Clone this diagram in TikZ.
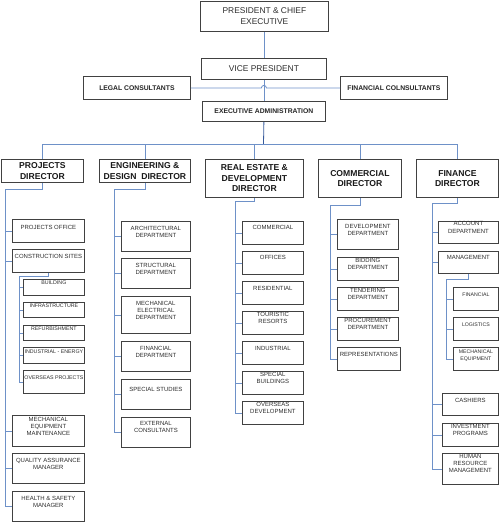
\documentclass[tikz,border=0pt]{standalone}
\usepackage{fontspec}
\setmainfont{Liberation Sans}
\usepackage{tikz}
\usetikzlibrary{positioning}
\definecolor{linkc}{RGB}{110,145,200}
\definecolor{darklink}{RGB}{55,90,155}
\definecolor{boxc}{RGB}{65,65,65}
\definecolor{textc}{RGB}{45,45,45}

\begin{document}
\begin{tikzpicture}[x=1pt,y=-1pt,
    unit/.style={draw=boxc,line width=0.8pt,fill=white,anchor=north west,inner sep=0pt},
    top/.style={unit,font=\fontsize{8.4}{10.6}\selectfont,text=textc,align=center},
    staff/.style={unit,font=\bfseries\fontsize{6.8}{8}\selectfont,text=black!85},
    head/.style={unit,font=\bfseries\fontsize{8.6}{10.4}\selectfont,text=black!90,align=center},
    utext/.style={anchor=north,inner sep=0pt,align=center,text=textc,font=\fontsize{6}{7.3}\selectfont},
    stext/.style={utext,font=\fontsize{5.3}{6.8}\selectfont},
    link/.style={draw=linkc,line width=0.8pt}]
  \useasboundingbox (0,0) rectangle (500,522);
  % top of the chart
  \node[top,minimum width=128,minimum height=30] (pr) at (200,1) {PRESIDENT \& CHIEF\\EXECUTIVE};
  \node[top,minimum width=125,minimum height=21] (vp) at (201,58) {VICE PRESIDENT};
  \node[staff,minimum width=107,minimum height=23] (lc) at (83,76) {LEGAL CONSULTANTS};
  \node[staff,minimum width=107,minimum height=23] (fc) at (340,76) {FINANCIAL COLNSULTANTS};
  \node[staff,minimum width=123,minimum height=20] (ea) at (202,101) {EXECUTIVE ADMINISTRATION};
  \draw[link] (pr.south -| vp.north) -- (vp.north);
  \draw[link] (vp.south) -- (ea.north);
  \draw[link] (lc.east) -- ([xshift=-2.5pt]vp.south |- lc.east)
    arc[start angle=180,end angle=0,radius=2.5pt] -- (fc.west);
  % directors
  \node[head,minimum width=82,minimum height=23] (pd) at (1,159) {PROJECTS\\DIRECTOR};
  \node[head,minimum width=91,minimum height=23] (ed) at (99,159) {ENGINEERING \&\\DESIGN\ \ DIRECTOR};
  \node[head,minimum width=98,minimum height=38] (rd) at (205,159) {REAL ESTATE \&\\DEVELOPMENT\\DIRECTOR};
  \node[head,minimum width=83,minimum height=38] (cd) at (318,159) {COMMERCIAL\\DIRECTOR};
  \node[head,minimum width=82,minimum height=38] (fd) at (416,159) {FINANCE\\DIRECTOR};
  \coordinate (bus) at (263.5,144);
  \draw[link,draw=darklink] (ea.south) -- (bus);
  \draw[link] (bus -| pd.north) -- (bus -| fd.north);
  \foreach \d in {pd,ed,rd,cd,fd}
    \draw[link] (bus -| \d.north) -- (\d.north);
  % projects
  \foreach \n/\y/\h/\off/\txt in {po/219/23/6/PROJECTS OFFICE,cs/249/23/5.5/CONSTRUCTION SITES,
      mem/415/31/2/MECHANICAL\\EQUIPMENT\\MAINTENANCE,qa/453/30/5/QUALITY ASSURANCE\\MANAGER,
      hs/491/30/5/HEALTH \& SAFETY\\MANAGER}
    \node[unit,minimum width=72,minimum height=\h,label={[utext,yshift=-\off]north:\txt}] (\n) at (12,\y) {};
  \foreach \n/\y/\h/\off/\txt in {bu/279/16/2/BUILDING,inf/302/15/2/INFRASTRUCTURE,
      ref/325/15/2/REFURBISHMENT,ie/347/16/2.5/INDUSTRIAL - ENERGY,op/370/23/6/OVERSEAS PROJECTS}
    \node[unit,minimum width=61,minimum height=\h,label={[stext,yshift=-\off]north:\txt}] (\n) at (23,\y) {};
  \coordinate (pj) at (5,189);
  \coordinate (cj) at (19,276);
  \draw[link] (pd.south) |- (pj) |- (hs.west);
  \foreach \n in {po,cs,mem,qa}
    \draw[link] (\n.west) -- (\n.west -| pj);
  \draw[link] (cs.south) |- (cj) |- (op.west);
  \foreach \n in {bu,inf,ref,ie}
    \draw[link] (\n.west) -- (\n.west -| cj);
  % engineering
  \foreach \n/\y/\h/\off/\txt in {ad/221/30/5/ARCHITECTURAL\\DEPARTMENT,sd/258/30/5/STRUCTURAL\\DEPARTMENT,
      me/296/37/5/MECHANICAL\\ELECTRICAL\\DEPARTMENT,fi/341/30/5/FINANCIAL\\DEPARTMENT,
      ss/379/30/8.5/SPECIAL STUDIES,ec/417/30/4/EXTERNAL\\CONSULTANTS}
    \node[unit,minimum width=69,minimum height=\h,label={[utext,yshift=-\off]north:\txt}] (\n) at (121,\y) {};
  \coordinate (ej) at (114,189);
  \draw[link] (ed.south) |- (ej) |- (ec.west);
  \foreach \n in {ad,sd,me,fi,ss}
    \draw[link] (\n.west) -- (\n.west -| ej);
  % real estate
  \foreach \n/\y/\off/\txt in {rc/221/4.5/COMMERCIAL,of/251/4.5/OFFICES,rs/281/5/RESIDENTIAL,
      tr/311/1/TOURISTIC\\RESORTS,id/341/5/INDUSTRIAL,sb/371/1/SPECIAL\\BUILDINGS,
      od/401/1/OVERSEAS\\DEVELOPMENT}
    \node[unit,minimum width=61,minimum height=23,label={[utext,yshift=-\off]north:\txt}] (\n) at (242,\y) {};
  \coordinate (rj) at (235,201);
  \draw[link] (rd.south) |- (rj) |- (od.west);
  \foreach \n in {rc,of,rs,tr,id,sb}
    \draw[link] (\n.west) -- (\n.west -| rj);
  % commercial
  \foreach \n/\y/\h/\w/\off/\txt in {dd/219/30/61/5/DEVELOPMENT\\DEPARTMENT,bd/257/23/61/1/BIDDING\\DEPARTMENT,
      td/287/23/61/1/TENDERING\\DEPARTMENT,pc/317/23/61/1/PROCUREMENT\\DEPARTMENT,
      rp/347/23/63/5/REPRESENTATIONS}
    \node[unit,minimum width=\w,minimum height=\h,label={[utext,yshift=-\off]north:\txt}] (\n) at (337,\y) {};
  \coordinate (cmj) at (330,205);
  \draw[link] (cd.south) |- (cmj) |- (rp.west);
  \foreach \n in {dd,bd,td,pc}
    \draw[link] (\n.west) -- (\n.west -| cmj);
  % finance
  \foreach \n/\y/\h/\x/\w/\off/\txt in {acc/221/22/438/60/0.5/ACCOUNT\\DEPARTMENT,mg/251/22/438/60/4/MANAGEMENT,
      ca/393/22/442/56/5/CASHIERS,ip/423/23/442/56/1/INVESTMENT\\PROGRAMS,
      hr/453/31/442/56/1/HUMAN\\RESOURCE\\MANAGEMENT}
    \node[unit,minimum width=\w,minimum height=\h,label={[utext,yshift=-\off]north:\txt}] (\n) at (\x,\y) {};
  \foreach \n/\y/\off/\txt in {ff/287/6/FINANCIAL,lg/317/6/LOGISTICS,mq/347/3/MECHANICAL\\EQUIPMENT}
    \node[unit,minimum width=45,minimum height=23,label={[stext,font=\fontsize{5.2}{7}\selectfont,yshift=-\off]north:\txt}] (\n) at (453,\y) {};
  \coordinate (fj) at (432,203);
  \coordinate (mj) at (446,279);
  \draw[link] (fd.south) |- (fj) |- (hr.west);
  \foreach \n in {acc,mg,ca,ip}
    \draw[link] (\n.west) -- (\n.west -| fj);
  \draw[link] (mg.south) |- (mj) |- (mq.west);
  \foreach \n in {ff,lg}
    \draw[link] (\n.west) -- (\n.west -| mj);
\end{tikzpicture}
\end{document}
